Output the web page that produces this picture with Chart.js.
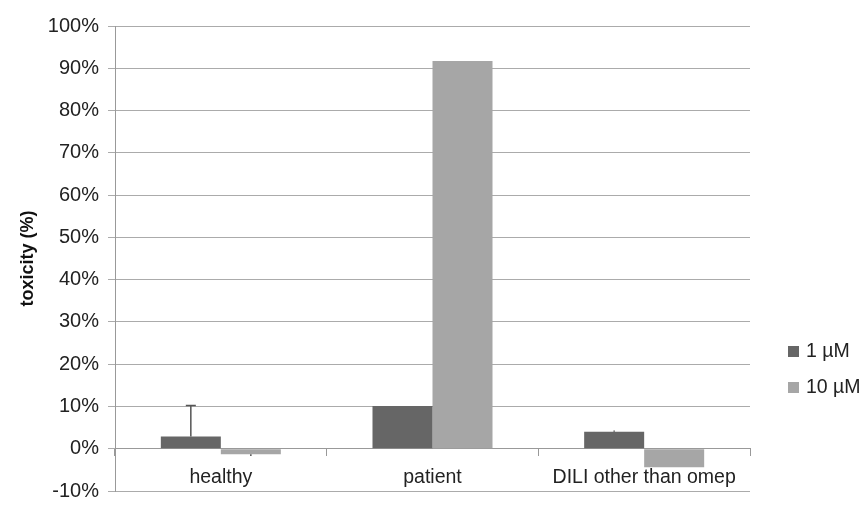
<!DOCTYPE html>
<html><head><meta charset="utf-8">
<script src="https://cdn.jsdelivr.net/npm/chart.js@4/dist/chart.umd.min.js"></script>
<style>html,body{margin:0;padding:0;background:#fff}#wrap{width:864px;height:506px}</style>
</head><body><div id="wrap"><canvas id="c" width="864" height="506"></canvas></div>
<script>
const categories = ["healthy", "patient", "DILI other than omep"];
const seriesNames = ["1 \u00b5M", "10 \u00b5M"];
const values1uM = [2.9, 10.1, 4.0];
const values10uM = [-1.3, 91.7, -4.4];
const errors1uM = [7.3, 0, 0.3];
const errors10uM = [0.4, 0, 0];
const yTicks = [-10, 0, 10, 20, 30, 40, 50, 60, 70, 80, 90, 100];

const FONT = "'Liberation Sans', Arial, sans-serif";

const errorBarPlugin = {
  id: 'errbars',
  afterDatasetsDraw(chart) {
    const ctx = chart.ctx;
    const ys = chart.scales.y;
    chart.data.datasets.forEach((ds, di) => {
      const meta = chart.getDatasetMeta(di);
      meta.data.forEach((bar, i) => {
        const e = ds.errors[i];
        if (!e) return;
        const v = ds.data[i];
        const end = v >= 0 ? v + e : v - e;
        const y0 = ys.getPixelForValue(v);
        const y1 = ys.getPixelForValue(end);
        ctx.save();
        ctx.strokeStyle = '#555';
        ctx.lineWidth = 1.5;
        ctx.beginPath();
        ctx.moveTo(bar.x, y0); ctx.lineTo(bar.x, y1);
        if (e > 1) { ctx.moveTo(bar.x - 5, y1); ctx.lineTo(bar.x + 5, y1); }
        ctx.stroke();
        ctx.restore();
      });
    });
  }
};

const legendPlugin = {
  id: 'customLegend',
  afterDraw(chart) {
    const ctx = chart.ctx;
    const ys = [351, 387];
    chart.data.datasets.forEach((ds, i) => {
      ctx.save();
      ctx.fillStyle = ds.backgroundColor;
      ctx.fillRect(788, ys[i] - 5, 11, 11);
      ctx.fillStyle = '#222';
      ctx.font = '19.5px ' + FONT;
      ctx.textBaseline = 'middle';
      ctx.fillText(ds.label, 806, ys[i] + 1);
      ctx.restore();
    });
  }
};

new Chart(document.getElementById('c'), {
  type: 'bar',
  data: {
    labels: categories,
    datasets: [
      { label: seriesNames[0], data: values1uM, errors: errors1uM, backgroundColor: '#666666' },
      { label: seriesNames[1], data: values10uM, errors: errors10uM, backgroundColor: '#a6a6a6' }
    ]
  },
  options: {
    responsive: false,
    animation: false,
    devicePixelRatio: 1,
    layout: { padding: { top: 26, right: 114, bottom: 0, left: 0 } },
    datasets: { bar: { categoryPercentage: 0.567, barPercentage: 1.0 } },
    plugins: { legend: { display: false }, tooltip: { enabled: false } },
    scales: {
      x: {
        position: { y: 0 },
        grid: { drawOnChartArea: false, drawTicks: true, tickLength: 7, color: '#999', offset: true },
        border: { color: '#999', width: 1 },
        ticks: { color: '#222', font: { family: FONT, size: 19.5 }, padding: 10 }
      },
      y: {
        min: -10, max: 100,
        afterBuildTicks(axis) { axis.ticks = yTicks.map(v => ({ value: v })); },
        afterFit(axis) { axis.width = 115; axis.paddingBottom = 15; axis.paddingTop = 0; },
        grid: { color: '#ababab', tickLength: 7, lineWidth: 1 },
        border: { color: '#999', width: 1 },
        ticks: { color: '#222', font: { family: FONT, size: 20, lineHeight: 1 }, padding: 9, callback: v => v + '%' },
        title: { display: true, text: 'toxicity (%)', color: '#111', font: { family: FONT, size: 18, weight: 'bold' }, padding: { top: 17, bottom: 0 } }
      }
    }
  },
  plugins: [errorBarPlugin, legendPlugin]
});
</script>
</body></html>
